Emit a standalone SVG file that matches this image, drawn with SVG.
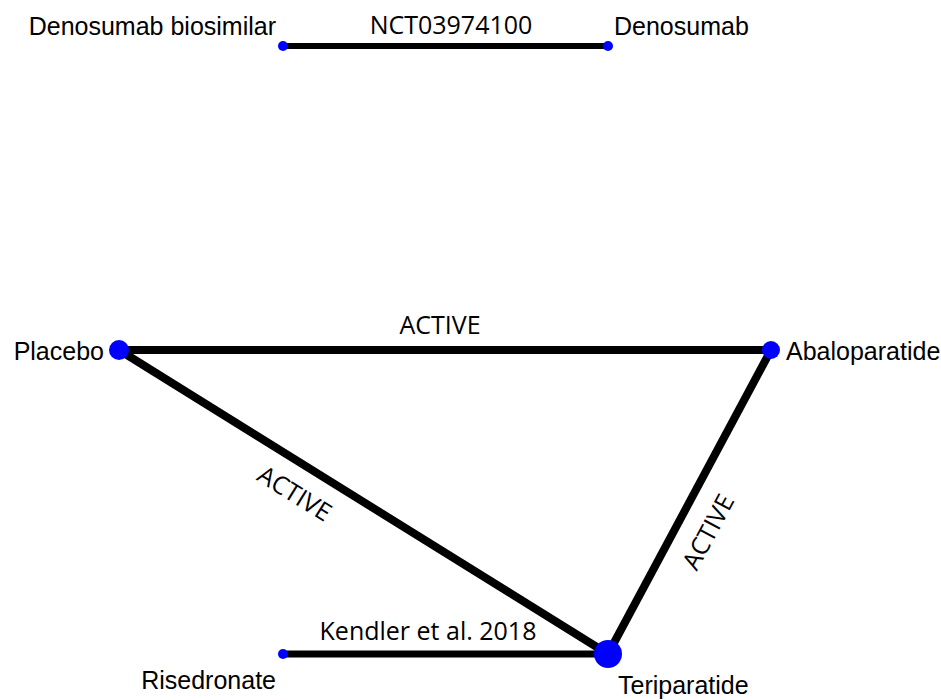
<svg xmlns="http://www.w3.org/2000/svg" width="941" height="700" viewBox="0 0 941 700">
<style>
.edge{stroke:#000;stroke-linecap:butt;fill:none}
.node{fill:#0000ff}
.nl{font-family:"Liberation Sans",Arial,sans-serif;font-size:25px;fill:#000}
.el{font-family:"Open Sans","DejaVu Sans",sans-serif;font-size:25px;fill:#000}
</style>
<rect width="941" height="700" fill="#fff"/>
<g id="connectors">
<line class="edge" x1="283" y1="46" x2="608" y2="46" stroke-width="6"/>
<line class="edge" x1="119" y1="350" x2="771" y2="350" stroke-width="8"/>
<line class="edge" x1="119" y1="350" x2="608" y2="654" stroke-width="8"/>
<line class="edge" x1="771" y1="350" x2="608" y2="654" stroke-width="8"/>
<line class="edge" x1="283" y1="654" x2="608" y2="654" stroke-width="7"/>
<text class="el" x="451" y="34" text-anchor="middle">NCT03974100</text>
<text class="el" x="440" y="334" text-anchor="middle">ACTIVE</text>
<text class="el" x="0" y="0" text-anchor="middle" transform="translate(290,501) rotate(31.87)">ACTIVE</text>
<text class="el" x="0" y="0" text-anchor="middle" transform="translate(716,536) rotate(-61.8)">ACTIVE</text>
<text class="el" x="428" y="640" text-anchor="middle">Kendler et al. 2018</text>
</g>
<g id="node-denosumab-biosimilar">
<circle class="node" cx="283" cy="46" r="5"/>
<text class="nl" x="276" y="35" text-anchor="end">Denosumab biosimilar</text>
</g>
<g id="node-denosumab">
<circle class="node" cx="608" cy="46" r="5"/>
<text class="nl" x="614" y="35">Denosumab</text>
</g>
<g id="node-placebo">
<circle class="node" cx="119" cy="350" r="10"/>
<text class="nl" x="104" y="360" text-anchor="end">Placebo</text>
</g>
<g id="node-abaloparatide">
<circle class="node" cx="771" cy="350" r="9"/>
<text class="nl" x="786" y="360">Abaloparatide</text>
</g>
<g id="node-teriparatide">
<circle class="node" cx="608" cy="654" r="14"/>
<text class="nl" x="618" y="694">Teriparatide</text>
</g>
<g id="node-risedronate">
<circle class="node" cx="283" cy="654" r="5"/>
<text class="nl" x="276" y="689" text-anchor="end">Risedronate</text>
</g>
</svg>
